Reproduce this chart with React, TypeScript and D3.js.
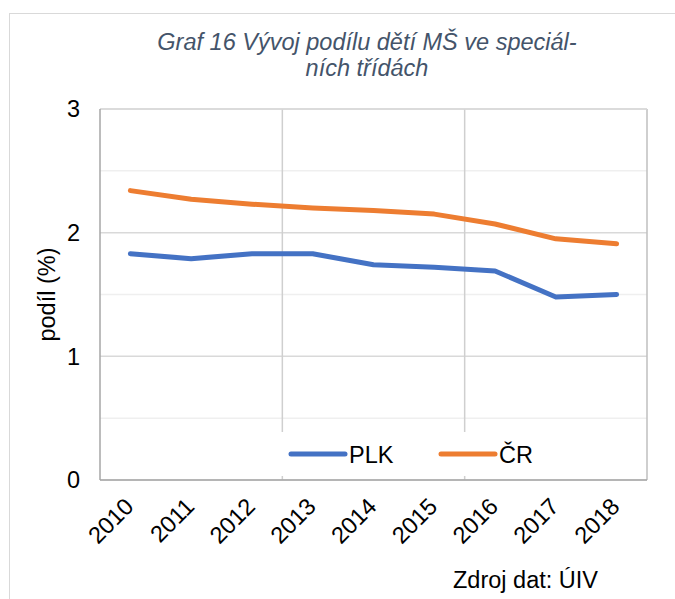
import React from "react";
import * as d3 from "d3";

const years = ["2010", "2011", "2012", "2013", "2014", "2015", "2016", "2017", "2018"];
const plk = [1.83, 1.79, 1.83, 1.83, 1.74, 1.72, 1.69, 1.48, 1.50];
const cr = [2.34, 2.27, 2.23, 2.20, 2.18, 2.15, 2.07, 1.95, 1.91];
const yTicks = [0, 1, 2, 3];
const yMinor = [0.5, 1.5, 2.5];
const titleLines = ["Graf 16 Vývoj podílu dětí MŠ ve speciál-", "ních třídách"];
const seriesNames = ["PLK", "ČR"];
const colors = ["#4472C4", "#ED7D31"];

const W = 675;
const H = 599;
const left = 100;
const right = 647;
const top = 109;
const bottom = 480;
const font = "Liberation Sans, Arial, sans-serif";
const fs = 23.5;

export default function App() {
  const x = d3.scaleBand<string>().domain(years).range([left, right]).padding(0);
  const cx = (y: string) => (x(y) as number) + x.bandwidth() / 2;
  const y = d3.scaleLinear().domain([0, 3]).range([bottom, top]);
  const line = d3
    .line<number>()
    .x((_, i) => cx(years[i]))
    .y((d) => y(d));
  const series = [plk, cr];
  const vGrid = [3, 6].map((i) => left + i * x.step());

  return (
    <svg width={W} height={H} style={{ position: "absolute", left: 0, top: 0, background: "#fff" }}>
      <rect x={9.5} y={13.5} width={700} height={700} fill="#fff" stroke="#d9d9d9" strokeWidth={1} />
      {titleLines.map((t, i) => (
        <text
          key={t}
          x={367}
          y={50 + i * 25.5}
          textAnchor="middle"
          fontFamily={font}
          fontStyle="italic"
          fontSize={fs}
          fill="#44546A"
        >
          {t}
        </text>
      ))}
      {yMinor.map((v) => (
        <line key={"m" + v} x1={left} x2={right} y1={y(v)} y2={y(v)} stroke="#efefef" strokeWidth={1.5} />
      ))}
      {yTicks.map((v) => (
        <line key={"g" + v} x1={left} x2={right} y1={y(v)} y2={y(v)} stroke="#d9d9d9" strokeWidth={1.5} />
      ))}
      {vGrid.map((gx) => (
        <line key={"v" + gx} x1={gx} x2={gx} y1={top} y2={bottom} stroke="#cfcfcf" strokeWidth={1.5} />
      ))}
      <line x1={right} x2={right} y1={top} y2={bottom} stroke="#bfbfbf" strokeWidth={1.5} />
      <line x1={left} x2={right} y1={top} y2={top} stroke="#d9d9d9" strokeWidth={1.5} />
      <line x1={left} x2={left} y1={top} y2={bottom} stroke="#a6a6a6" strokeWidth={1.5} />
      <line x1={left} x2={right} y1={bottom} y2={bottom} stroke="#a6a6a6" strokeWidth={1.5} />
      {series.map((s, i) => (
        <path
          key={seriesNames[i]}
          d={line(s) as string}
          fill="none"
          stroke={colors[i]}
          strokeWidth={5}
          strokeLinejoin="round"
          strokeLinecap="round"
        />
      ))}
      <rect x={276} y={432} width={270} height={44} fill="#fff" />
      {seriesNames.map((n, i) => {
        const lx = 291 + i * 150;
        return (
          <g key={n}>
            <line x1={lx} x2={lx + 54} y1={454} y2={454} stroke={colors[i]} strokeWidth={5} strokeLinecap="round" />
            <text x={lx + 58} y={462.5} fontFamily={font} fontSize={fs} fill="#000">
              {n}
            </text>
          </g>
        );
      })}
      {yTicks.map((v) => (
        <text key={"t" + v} x={80} y={y(v) + 8.4} textAnchor="end" fontFamily={font} fontSize={fs} fill="#000">
          {v}
        </text>
      ))}
      <text
        transform={`translate(47, ${(top + bottom) / 2}) rotate(-90)`}
        textAnchor="middle"
        dominantBaseline="central"
        fontFamily={font}
        fontSize={fs}
        fill="#000"
      >
        podíl (%)
      </text>
      {years.map((yr) => (
        <text
          key={yr}
          transform={`translate(${cx(yr) + 4.5}, 508) rotate(-45)`}
          textAnchor="end"
          fontFamily={font}
          fontSize={fs}
          fill="#000"
        >
          {yr}
        </text>
      ))}
      <text x={453} y={588} fontFamily={font} fontSize={fs} fill="#000">
        Zdroj dat: ÚIV
      </text>
    </svg>
  );
}
